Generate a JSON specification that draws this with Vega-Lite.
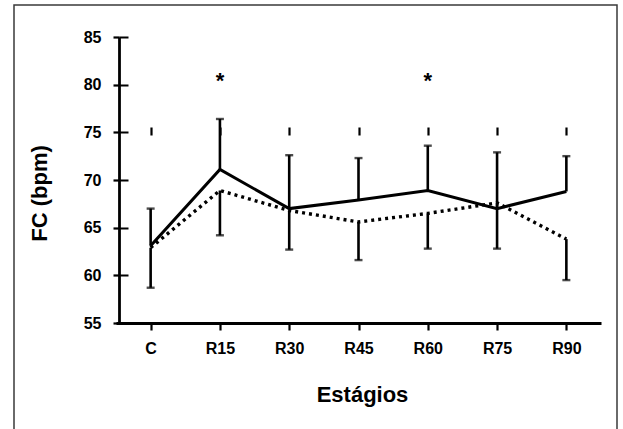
{
  "$schema": "https://vega.github.io/schema/vega-lite/v6.json",
  "width": 603,
  "height": 440,
  "autosize": {"type": "none"},
  "padding": {"left": 14, "top": 5, "right": 6, "bottom": 0},
  "background": "white",
  "config": {
    "view": {"stroke": "#3a3a3a", "strokeWidth": 1.5},
    "font": "Liberation Sans",
    "axis": {
      "domainColor": "black",
      "domainWidth": 2.8,
      "tickColor": "black",
      "tickWidth": 2.2,
      "labelFont": "Liberation Sans",
      "labelFontWeight": "bold",
      "labelFontSize": 16,
      "labelColor": "black",
      "titleFont": "Liberation Sans",
      "titleFontWeight": "bold",
      "titleFontSize": 22,
      "titleColor": "black"
    }
  },
  "datasets": {
    "stats": [
      {"stage": "C", "group": "A", "mean": 63.1, "err": 67.0},
      {"stage": "R15", "group": "A", "mean": 71.1, "err": 76.4},
      {"stage": "R30", "group": "A", "mean": 67.0, "err": 72.6},
      {"stage": "R45", "group": "A", "mean": 67.9, "err": 72.3},
      {"stage": "R60", "group": "A", "mean": 68.9, "err": 73.6},
      {"stage": "R75", "group": "A", "mean": 67.0, "err": 72.9},
      {"stage": "R90", "group": "A", "mean": 68.8, "err": 72.5},
      {"stage": "C", "group": "B", "mean": 62.9, "err": 58.7},
      {"stage": "R15", "group": "B", "mean": 68.9, "err": 64.2},
      {"stage": "R30", "group": "B", "mean": 66.8, "err": 62.7},
      {"stage": "R45", "group": "B", "mean": 65.6, "err": 61.6},
      {"stage": "R60", "group": "B", "mean": 66.5, "err": 62.8},
      {"stage": "R75", "group": "B", "mean": 67.6, "err": 62.8},
      {"stage": "R90", "group": "B", "mean": 63.8, "err": 59.5}
    ],
    "sig": [
      {"stage": "R15", "y": 81},
      {"stage": "R60", "y": 81}
    ]
  },
  "data": {"name": "stats"},
  "resolve": {"axis": {"x": "independent", "y": "independent"}},
  "layer": [
    {
      "transform": [{"filter": "datum.group === 'B'"}],
      "mark": {"type": "line", "color": "black", "strokeWidth": 3.4, "strokeDash": [3, 4]},
      "encoding": {
        "x": {
          "field": "stage",
          "type": "ordinal",
          "scale": {"type": "point", "domain": ["C", "R15", "R30", "R45", "R60", "R75", "R90"], "range": [102, 587], "padding": 0.5},
          "axis": {
            "orient": "bottom",
            "offset": -122,
            "tickSize": 7,
            "labelPadding": 10,
            "labelAngle": 0,
            "grid": true,
            "gridColor": "black",
            "gridWidth": 2.2,
            "gridDash": [8, 3000],
            "title": "Estágios",
            "titleX": 348,
            "titleY": 78,
            "titleBaseline": "alphabetic"
          }
        },
        "y": {
          "field": "mean",
          "type": "quantitative",
          "scale": {"domain": [55, 85], "range": [318, 32], "nice": false, "zero": false},
          "axis": {
            "orient": "left",
            "offset": -105,
            "values": [55, 60, 65, 70, 75, 80, 85],
            "tickSize": 6,
            "labelPadding": 12,
            "grid": true,
            "gridColor": "black",
            "gridWidth": 2.2,
            "gridDash": [0, 3, 9, 3000],
            "title": "FC (bpm)",
            "titleAngle": -90,
            "titleX": -73,
            "titleY": 188,
            "titleBaseline": "alphabetic",
            "titleAlign": "center"
          }
        }
      }
    },
    {
      "transform": [{"filter": "datum.group === 'A'"}],
      "mark": {"type": "line", "color": "black", "strokeWidth": 3},
      "encoding": {
        "x": {"field": "stage", "type": "ordinal", "axis": null},
        "y": {"field": "mean", "type": "quantitative", "axis": null}
      }
    },
    {
      "mark": {"type": "rule", "color": "black", "strokeWidth": 2.6},
      "encoding": {
        "x": {"field": "stage", "type": "ordinal", "axis": null},
        "y": {"field": "mean", "type": "quantitative", "axis": null},
        "y2": {"field": "err"}
      }
    },
    {
      "mark": {"type": "tick", "color": "black", "size": 8, "thickness": 2.4},
      "encoding": {
        "x": {"field": "stage", "type": "ordinal", "axis": null},
        "y": {"field": "err", "type": "quantitative", "axis": null}
      }
    },
    {
      "data": {"name": "sig"},
      "mark": {"type": "text", "text": "*", "fontSize": 22, "fontWeight": "bold", "font": "Liberation Sans", "color": "black", "baseline": "alphabetic", "dy": 13},
      "encoding": {
        "x": {"field": "stage", "type": "ordinal", "axis": null},
        "y": {"field": "y", "type": "quantitative", "axis": null}
      }
    }
  ]
}
